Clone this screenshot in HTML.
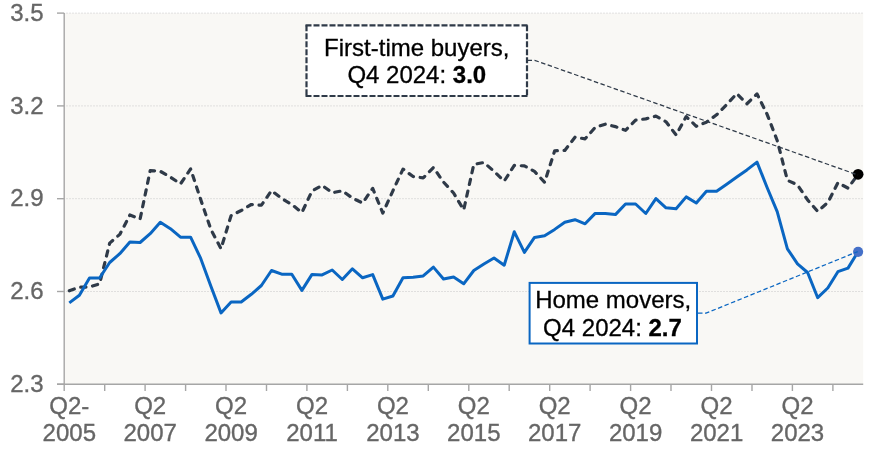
<!DOCTYPE html>
<html><head><meta charset="utf-8"><style>
html,body{margin:0;padding:0;background:#fff;}
body{width:875px;height:454px;overflow:hidden;}
svg{display:block;will-change:transform;}
text{font-family:"Liberation Sans",sans-serif;}
.ax{font-size:24px;fill:#666666;stroke:#666666;stroke-width:0.35px;}
.ann{font-size:24px;fill:#000;stroke:#000;stroke-width:0.3px;}
</style></head><body>
<svg width="875" height="454" viewBox="0 0 875 454">
<rect x="64.2" y="13.1" width="799.0" height="371.09999999999997" fill="#F9F8F5"/>
<line x1="66.5" y1="13.1" x2="863.2" y2="13.1" stroke="#C6C6C6" stroke-width="1" stroke-dasharray="1 2"/>
<line x1="66.5" y1="105.9" x2="863.2" y2="105.9" stroke="#C6C6C6" stroke-width="1" stroke-dasharray="1 2"/>
<line x1="66.5" y1="198.7" x2="863.2" y2="198.7" stroke="#C6C6C6" stroke-width="1" stroke-dasharray="1 2"/>
<line x1="66.5" y1="291.5" x2="863.2" y2="291.5" stroke="#C6C6C6" stroke-width="1" stroke-dasharray="1 2"/>
<line x1="64.2" y1="13.1" x2="64.2" y2="384.2" stroke="#A6A6A6" stroke-width="1.4"/>
<line x1="57" y1="384.2" x2="863.2" y2="384.2" stroke="#A6A6A6" stroke-width="1.4"/>
<line x1="57" y1="13.1" x2="64.2" y2="13.1" stroke="#A6A6A6" stroke-width="1.4"/>
<line x1="57" y1="105.9" x2="64.2" y2="105.9" stroke="#A6A6A6" stroke-width="1.4"/>
<line x1="57" y1="198.7" x2="64.2" y2="198.7" stroke="#A6A6A6" stroke-width="1.4"/>
<line x1="57" y1="291.5" x2="64.2" y2="291.5" stroke="#A6A6A6" stroke-width="1.4"/>
<line x1="57" y1="384.2" x2="64.2" y2="384.2" stroke="#A6A6A6" stroke-width="1.4"/>
<line x1="64.2" y1="384.2" x2="64.2" y2="391" stroke="#A6A6A6" stroke-width="1.4"/>
<line x1="104.7" y1="384.2" x2="104.7" y2="391" stroke="#A6A6A6" stroke-width="1.4"/>
<line x1="145.1" y1="384.2" x2="145.1" y2="391" stroke="#A6A6A6" stroke-width="1.4"/>
<line x1="185.6" y1="384.2" x2="185.6" y2="391" stroke="#A6A6A6" stroke-width="1.4"/>
<line x1="226.0" y1="384.2" x2="226.0" y2="391" stroke="#A6A6A6" stroke-width="1.4"/>
<line x1="266.5" y1="384.2" x2="266.5" y2="391" stroke="#A6A6A6" stroke-width="1.4"/>
<line x1="306.9" y1="384.2" x2="306.9" y2="391" stroke="#A6A6A6" stroke-width="1.4"/>
<line x1="347.4" y1="384.2" x2="347.4" y2="391" stroke="#A6A6A6" stroke-width="1.4"/>
<line x1="387.8" y1="384.2" x2="387.8" y2="391" stroke="#A6A6A6" stroke-width="1.4"/>
<line x1="428.3" y1="384.2" x2="428.3" y2="391" stroke="#A6A6A6" stroke-width="1.4"/>
<line x1="468.8" y1="384.2" x2="468.8" y2="391" stroke="#A6A6A6" stroke-width="1.4"/>
<line x1="509.2" y1="384.2" x2="509.2" y2="391" stroke="#A6A6A6" stroke-width="1.4"/>
<line x1="549.7" y1="384.2" x2="549.7" y2="391" stroke="#A6A6A6" stroke-width="1.4"/>
<line x1="590.1" y1="384.2" x2="590.1" y2="391" stroke="#A6A6A6" stroke-width="1.4"/>
<line x1="630.6" y1="384.2" x2="630.6" y2="391" stroke="#A6A6A6" stroke-width="1.4"/>
<line x1="671.0" y1="384.2" x2="671.0" y2="391" stroke="#A6A6A6" stroke-width="1.4"/>
<line x1="711.5" y1="384.2" x2="711.5" y2="391" stroke="#A6A6A6" stroke-width="1.4"/>
<line x1="752.0" y1="384.2" x2="752.0" y2="391" stroke="#A6A6A6" stroke-width="1.4"/>
<line x1="792.4" y1="384.2" x2="792.4" y2="391" stroke="#A6A6A6" stroke-width="1.4"/>
<line x1="832.9" y1="384.2" x2="832.9" y2="391" stroke="#A6A6A6" stroke-width="1.4"/>
<text x="43.5" y="20.8" text-anchor="end" class="ax">3.5</text>
<text x="43.5" y="113.6" text-anchor="end" class="ax">3.2</text>
<text x="43.5" y="206.4" text-anchor="end" class="ax">2.9</text>
<text x="43.5" y="299.2" text-anchor="end" class="ax">2.6</text>
<text x="43.5" y="391.9" text-anchor="end" class="ax">2.3</text>
<text x="69.3" y="414" text-anchor="middle" class="ax">Q2-</text>
<text x="69.3" y="440.5" text-anchor="middle" class="ax">2005</text>
<text x="150.2" y="414" text-anchor="middle" class="ax">Q2</text>
<text x="150.2" y="440.5" text-anchor="middle" class="ax">2007</text>
<text x="231.1" y="414" text-anchor="middle" class="ax">Q2</text>
<text x="231.1" y="440.5" text-anchor="middle" class="ax">2009</text>
<text x="312.0" y="414" text-anchor="middle" class="ax">Q2</text>
<text x="312.0" y="440.5" text-anchor="middle" class="ax">2011</text>
<text x="392.9" y="414" text-anchor="middle" class="ax">Q2</text>
<text x="392.9" y="440.5" text-anchor="middle" class="ax">2013</text>
<text x="473.8" y="414" text-anchor="middle" class="ax">Q2</text>
<text x="473.8" y="440.5" text-anchor="middle" class="ax">2015</text>
<text x="554.7" y="414" text-anchor="middle" class="ax">Q2</text>
<text x="554.7" y="440.5" text-anchor="middle" class="ax">2017</text>
<text x="635.6" y="414" text-anchor="middle" class="ax">Q2</text>
<text x="635.6" y="440.5" text-anchor="middle" class="ax">2019</text>
<text x="716.6" y="414" text-anchor="middle" class="ax">Q2</text>
<text x="716.6" y="440.5" text-anchor="middle" class="ax">2021</text>
<text x="797.5" y="414" text-anchor="middle" class="ax">Q2</text>
<text x="797.5" y="440.5" text-anchor="middle" class="ax">2023</text>
<polyline points="69.3,290.8 79.4,287.2 89.5,287.0 99.6,283.8 109.7,243.1 119.8,234.4 129.9,215.0 140.1,219.0 150.2,170.6 160.3,171.3 170.4,177.1 180.5,183.9 190.6,168.9 200.7,199.6 210.9,229.5 221.0,248.7 231.1,215.6 241.2,210.5 251.3,204.5 261.4,205.2 271.5,190.7 281.7,198.4 291.8,204.5 301.9,212.5 312.0,191.0 322.1,185.3 332.2,192.8 342.3,190.8 352.4,198.1 362.6,203.0 372.7,188.4 382.8,213.1 392.9,190.8 403.0,169.1 413.1,176.5 423.2,177.9 433.4,167.5 443.5,182.1 453.6,193.0 463.7,209.9 473.8,164.4 483.9,162.5 494.0,171.3 504.2,181.1 514.3,165.4 524.4,165.9 534.5,171.4 544.6,182.3 554.7,150.8 564.8,150.4 575.0,137.3 585.1,138.8 595.2,127.4 605.3,124.2 615.4,126.6 625.5,130.3 635.6,120.1 645.8,118.9 655.9,116.1 666.0,121.8 676.1,135.0 686.2,116.6 696.3,126.3 706.4,122.2 716.6,114.8 726.7,104.5 736.8,93.6 746.9,103.8 757.0,93.9 767.1,114.3 777.2,140.5 787.4,180.3 797.5,184.9 807.6,199.9 817.7,211.4 827.8,202.6 837.9,182.8 848.0,188.1 858.1,174.3" fill="none" stroke="#2F3A48" stroke-width="3.2" stroke-linejoin="round" stroke-linecap="round" stroke-dasharray="5.3 6.7"/>
<polyline points="69.3,302.9 79.4,295.2 89.5,278.0 99.6,278.0 109.7,262.5 119.8,253.7 129.9,241.9 140.1,242.5 150.2,233.7 160.3,222.2 170.4,228.7 180.5,237.2 190.6,237.2 200.7,258.4 210.9,286.3 221.0,312.9 231.1,302.0 241.2,302.0 251.3,294.3 261.4,285.5 271.5,270.5 281.7,274.2 291.8,274.2 301.9,290.4 312.0,274.4 322.1,274.9 332.2,270.0 342.3,279.5 352.4,268.8 362.6,277.8 372.7,274.6 382.8,299.1 392.9,296.0 403.0,277.8 413.1,277.3 423.2,275.9 433.4,267.1 443.5,279.0 453.6,277.0 463.7,283.8 473.8,270.5 483.9,264.0 494.0,258.0 504.2,265.2 514.3,231.8 524.4,252.4 534.5,237.4 544.6,235.7 554.7,229.4 564.8,222.2 575.0,219.7 585.1,223.8 595.2,213.4 605.3,213.4 615.4,214.6 625.5,204.0 635.6,204.0 645.8,213.5 655.9,198.6 666.0,207.8 676.1,208.8 686.2,196.9 696.3,203.0 706.4,191.3 716.6,191.3 726.7,184.3 736.8,177.0 746.9,169.9 757.0,162.1 767.1,187.5 777.2,211.7 787.4,248.8 797.5,263.8 807.6,272.5 817.7,297.7 827.8,288.0 837.9,271.7 848.0,268.1 858.1,251.6" fill="none" stroke="#0A66C2" stroke-width="3" stroke-linejoin="round"/>
<circle cx="858.1" cy="251.79999999999998" r="5.1" fill="#4570C8"/>
<circle cx="858.1" cy="174.3" r="5.4" fill="#000000"/>
<polyline points="527.5,60.3 534.7,60.3 858,175" fill="none" stroke="#2F3A48" stroke-width="1.25" stroke-dasharray="4.5 2.5"/>
<polyline points="698,313.2 706,313.2 857.7,251.6" fill="none" stroke="#0A66C2" stroke-width="1.25" stroke-dasharray="4.5 2.5"/>
<rect x="306.5" y="25.3" width="220.5" height="70.7" fill="#FFFFFF"/>
<line x1="305.5" y1="25.3" x2="528.0" y2="25.3" stroke="#2F3A48" stroke-width="2.2" stroke-dasharray="6 2"/>
<line x1="527.0" y1="25.3" x2="527.0" y2="96.0" stroke="#2F3A48" stroke-width="2.2" stroke-dasharray="6 2"/>
<line x1="305.5" y1="96.0" x2="528.0" y2="96.0" stroke="#2F3A48" stroke-width="2.2" stroke-dasharray="6 2"/>
<line x1="306.5" y1="25.3" x2="306.5" y2="96.0" stroke="#2F3A48" stroke-width="2.2" stroke-dasharray="6 2"/>
<text x="416.8" y="56" text-anchor="middle" class="ann">First-time buyers,</text>
<text x="416.8" y="83" text-anchor="middle" class="ann">Q4 2024: <tspan font-weight="bold">3.0</tspan></text>
<rect x="529.6" y="282.9" width="167.4" height="60.6" fill="#FFFFFF" stroke="#0A66C2" stroke-width="2"/>
<text x="613.2" y="308" text-anchor="middle" class="ann">Home movers,</text>
<text x="612.5" y="335.5" text-anchor="middle" class="ann">Q4 2024: <tspan font-weight="bold">2.7</tspan></text>
</svg>
</body></html>
